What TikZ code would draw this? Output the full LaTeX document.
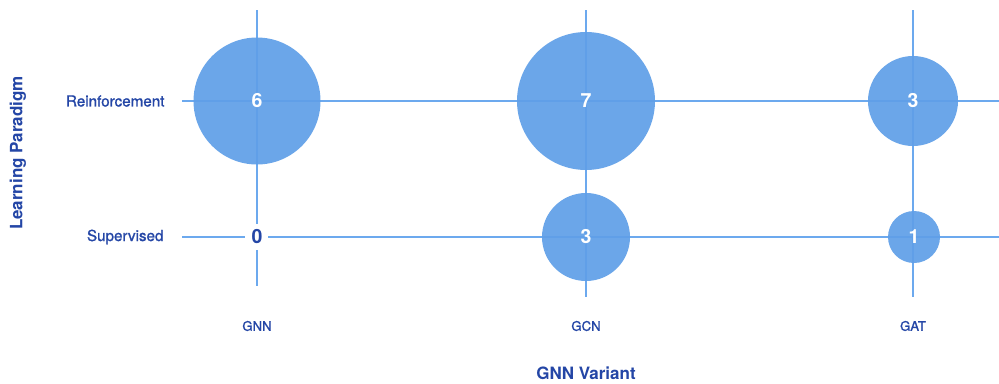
\documentclass[tikz,border=0pt]{standalone}
\usepackage{fontspec}
\setmainfont{TeX Gyre Heros}
\newfontfamily\medfont{TeX Gyre Heros}[FakeBold=1.2]
\definecolor{gridblue}{HTML}{6CA9EE}
\definecolor{bubble}{HTML}{5F9FE8}
\definecolor{ink}{HTML}{2446A6}
\begin{document}
\begin{tikzpicture}[x=1pt,y=-1pt,
  gridline/.style={draw=gridblue,line width=1.4pt},
  bubblestyle/.style={circle,fill=bubble,fill opacity=0.92,text opacity=1,inner sep=0pt},
  countlbl/.style={text=white,font=\fontsize{19.5}{20}\selectfont\bfseries},
  ticklbl/.style={text=ink,font=\medfont\fontsize{15.2}{16}\selectfont},
  xticklbl/.style={text=ink,font=\medfont\fontsize{13.2}{14}\selectfont},
  axislbl/.style={text=ink,font=\fontsize{17}{18}\selectfont\bfseries}]
\useasboundingbox (0,0) rectangle (999,383);
\fill[white] (0,0) rectangle (999,383);
% vertical grid lines
\coordinate (vA1) at (257,10); \coordinate (vA2) at (257,224);
\coordinate (vA3) at (257,250); \coordinate (vA4) at (257,286);
\draw[gridline] (vA1) -- (vA2);
\draw[gridline] (vA3) -- (vA4);
\coordinate (vB1) at (586,10); \coordinate (vB2) at (586,297);
\draw[gridline] (vB1) -- (vB2);
\coordinate (vC1) at (913,10); \coordinate (vC2) at (913,297);
\draw[gridline] (vC1) -- (vC2);
% horizontal grid lines
\coordinate (hR1) at (182,101); \coordinate (hR2) at (999,101);
\draw[gridline] (hR1) -- (hR2);
\coordinate (hS1) at (182,237); \coordinate (hS2) at (245,237);
\coordinate (hS3) at (268,237); \coordinate (hS4) at (999,237);
\draw[gridline] (hS1) -- (hS2);
\draw[gridline] (hS3) -- (hS4);
% bubbles, radius 26*sqrt(count)
\node[bubblestyle,minimum size=127pt,countlbl] (r6) at (257,101) {6};
\node[bubblestyle,minimum size=138pt,countlbl] (r7) at (586,101) {7};
\node[bubblestyle,minimum size=90pt,countlbl] (r3) at (913,101) {3};
\node[bubblestyle,minimum size=88pt,countlbl] (s3) at (586,237) {3};
\node[bubblestyle,minimum size=52pt,countlbl] (s1) at (914,237) {1};
\node[text=ink,font=\fontsize{19.5}{20}\selectfont\bfseries] (s0) at (257,237) {0};
% tick labels
\node[ticklbl,anchor=east] (tR) at (168,101) {Reinforcement};
\node[ticklbl,anchor=east] (tS) at (167,237) {Supervised};
\node[xticklbl] (tA) at (257,326) {GNN};
\node[xticklbl] (tB) at (586,326) {GCN};
\node[xticklbl] (tC) at (913,326) {GAT};
% axis titles
\node[axislbl] (xt) at (586,373) {GNN Variant};
\node[axislbl,rotate=90] (yt) at (18,153) {Learning Paradigm};
\end{tikzpicture}
\end{document}
